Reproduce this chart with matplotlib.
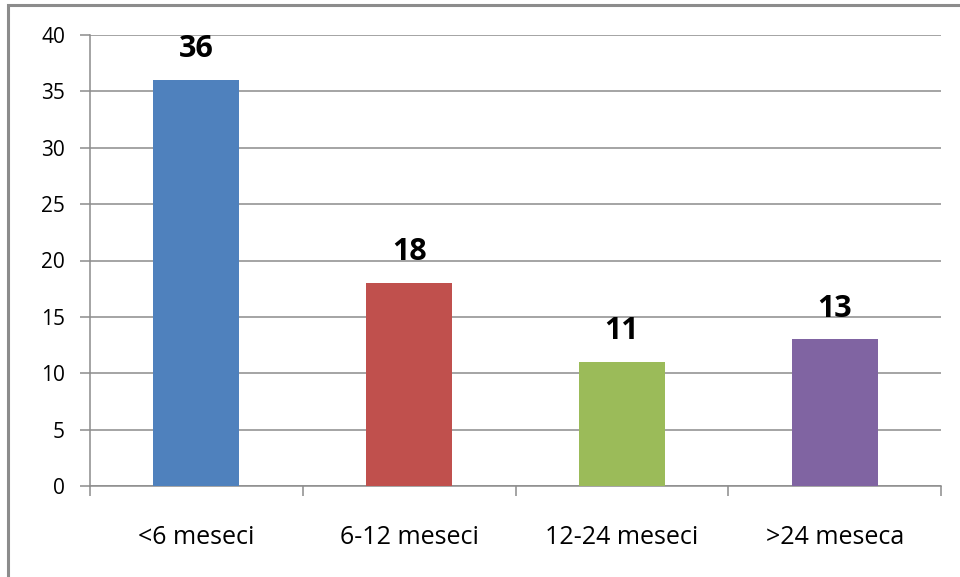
import matplotlib.pyplot as plt
import matplotlib.patches as mpatches

categories = ['<6 meseci', '6-12 meseci', '12-24 meseci', '>24 meseca']
values = [36, 18, 11, 13]
colors = ['#4F81BD', '#C0504D', '#9BBB59', '#8064A2']
yticks = [0, 5, 10, 15, 20, 25, 30, 35, 40]

plt.rcParams['font.family'] = ['Open Sans', 'DejaVu Sans']

fig = plt.figure(figsize=(9.6, 5.77), dpi=100)
ax = fig.add_axes([90/960, 1 - 486/577, (941 - 90)/960, (486 - 35)/577])

# outer chart frame (cropped at right/bottom)
fig.patches.append(mpatches.Rectangle((8/960, -0.1), 1.2, 1 - 5/577 + 0.1,
                                      transform=fig.transFigure, fill=False,
                                      edgecolor='#8c8c8c', linewidth=2.2))

x = range(len(categories))
ax.bar(x, values, width=0.405, color=colors, zorder=3)

for i, v in enumerate(values):
    ax.annotate(str(v), (i, v), xytext=(0, 16.5), textcoords='offset points',
                ha='center', va='baseline', fontsize=22, fontweight='bold')

ax.set_xlim(-0.5, len(categories) - 0.5)
ax.set_ylim(0, 40)
ax.set_yticks(yticks)
ax.yaxis.grid(True, color='#8c8c8c', linewidth=1.1, zorder=0)

ax.set_xticks(x)
ax.set_xticklabels(categories, fontsize=18)
ax.tick_params(axis='x', length=0, pad=28)
ax.set_xticks([i - 0.5 for i in range(len(categories) + 1)], minor=True)
ax.tick_params(axis='x', which='minor', length=7, color='#8c8c8c', width=1.1)
ax.tick_params(axis='y', length=7, color='#8c8c8c', width=1.1, labelsize=15, pad=11)

for s in ['top', 'right']:
    ax.spines[s].set_visible(False)
for s in ['left', 'bottom']:
    ax.spines[s].set_color('#8c8c8c')
    ax.spines[s].set_linewidth(1.1)

plt.savefig('out.png')
